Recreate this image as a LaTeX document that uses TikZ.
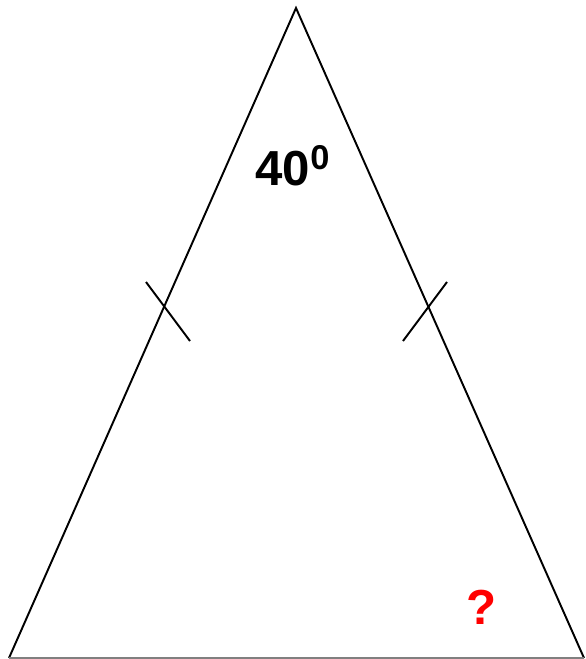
\documentclass[tikz,border=0pt]{standalone}
\usepackage{fontspec}
\setmainfont{Liberation Sans}
\usepackage{tikz}
\usetikzlibrary{calc}

\begin{document}
\begin{tikzpicture}[x=0.02cm, y=-0.02cm, every node/.style={font=\bfseries\fontsize{28}{30}\selectfont}]
  \useasboundingbox (0,0) rectangle (585,659);
  \coordinate (A) at (296,8);
  \coordinate (B) at (9,658);
  \coordinate (C) at (584,658);
  \coordinate (t1a) at (146,282);
  \coordinate (t1b) at (190,341);
  \coordinate (t2a) at (447,282);
  \coordinate (t2b) at (403,341);
  \draw[line width=1.1pt] (B) -- (A) -- (C);
  \draw[line width=0.9pt, gray] (B) -- (C);
  \draw[line width=1.1pt] (t1a) -- (t1b);
  \draw[line width=1.1pt] (t2a) -- (t2b);
  \node (ang) at (293,166) {40\textsuperscript{0}};
  \node[text=red] (q) at (482,607) {?};
\end{tikzpicture}
\end{document}
